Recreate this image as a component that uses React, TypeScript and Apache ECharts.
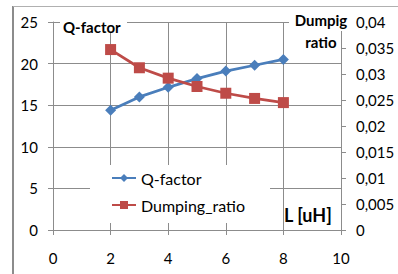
import React, { useEffect, useRef } from "react";
import * as echarts from "echarts";

const inductance = [2, 3, 4, 5, 6, 7, 8];
const qFactor = [14.4, 16.0, 17.15, 18.2, 19.1, 19.8, 20.5];
const dampingRatio = [0.0347, 0.0312, 0.0292, 0.0276, 0.0263, 0.0253, 0.0245];
const seriesNames = ["Q-factor", "Dumping_ratio"];
const leftTitle = "Q-factor";
const rightTitle = "Dumpig\nratio";
const xTitle = "L [uH]";

const GRAY = "#8c8c8c";
const FONT = "Lato";

export default function App() {
  const ref = useRef<HTMLDivElement>(null);
  useEffect(() => {
    if (!ref.current) return;
    const chart = echarts.init(ref.current, null, { renderer: "svg" });
    const qData = inductance.map((x, i) => [x, qFactor[i]]);
    const dData = inductance.map((x, i) => [x, dampingRatio[i]]);
    chart.setOption({
      animation: false,
      backgroundColor: "#fff",
      textStyle: { fontFamily: FONT },
      grid: { left: 53, top: 22, width: 288, height: 208, containLabel: false },
      xAxis: {
        type: "value",
        min: 0,
        max: 10,
        interval: 2,
        axisLine: { show: true, lineStyle: { color: GRAY, width: 1 } },
        axisTick: { show: true, length: 5, lineStyle: { color: GRAY } },
        splitLine: { show: true, lineStyle: { color: GRAY, width: 1 } },
        axisLabel: { color: "#000", fontSize: 15, fontFamily: FONT, margin: 20 },
      },
      yAxis: [
        {
          type: "value",
          min: 0,
          max: 25,
          interval: 5,
          position: "left",
          axisLine: { show: true, lineStyle: { color: GRAY, width: 1 } },
          axisTick: { show: true, length: 5, lineStyle: { color: GRAY } },
          splitLine: { show: true, lineStyle: { color: GRAY, width: 1 } },
          axisLabel: { color: "#000", fontSize: 15, fontFamily: FONT, margin: 15 },
        },
        {
          type: "value",
          min: 0,
          max: 0.04,
          interval: 0.005,
          position: "right",
          axisLine: { show: true, lineStyle: { color: GRAY, width: 1 } },
          axisTick: { show: true, length: 5, lineStyle: { color: GRAY } },
          splitLine: { show: false },
          axisLabel: {
            color: "#000",
            fontSize: 15,
            fontFamily: FONT,
            margin: 15,
            formatter: (v: number) =>
              v === 0 ? "0" : String(+v.toFixed(3)).replace(".", ","),
          },
        },
      ],
      legend: {
        orient: "vertical",
        left: 111,
        top: 170,
        padding: 0,
        itemWidth: 24,
        itemHeight: 10,
        itemGap: 11,
        z: 10,
        textStyle: { color: "#000", fontSize: 16, fontFamily: FONT },
        data: seriesNames,
      },
      graphic: [
        { type: "rect", z: 3, shape: { x: 90, y: 165, width: 180, height: 58 }, style: { fill: "#fff" } },
        { type: "rect", z: 3, shape: { x: 60, y: 14, width: 67, height: 18 }, style: { fill: "#fff" } },
        { type: "rect", z: 3, shape: { x: 289, y: 10, width: 61, height: 21 }, style: { fill: "#fff" } },
        { type: "rect", z: 3, shape: { x: 289, y: 31, width: 50, height: 20 }, style: { fill: "#fff" } },
        {
          type: "text",
          z: 4,
          style: { text: leftTitle, x: 63, y: 27, fill: "#000", font: `bold 15px ${FONT}`, textVerticalAlign: "middle", verticalAlign: "middle" },
        },
        {
          type: "text",
          z: 4,
          style: {
            text: rightTitle,
            x: 321,
            y: 31,
            fill: "#000",
            font: `bold 15px ${FONT}`,
            align: "center",
            textAlign: "center",
            verticalAlign: "middle",
            textVerticalAlign: "middle",
            lineHeight: 22,
          },
        },
        {
          type: "text",
          z: 4,
          style: { text: xTitle, x: 284, y: 215, fill: "#000", font: `bold 18px ${FONT}`, verticalAlign: "middle", textVerticalAlign: "middle" },
        },
        { type: "line", z: 5, shape: { x1: 13, y1: 6, x2: 13, y2: 274 }, style: { stroke: "#8c8c8c", lineWidth: 2 } },
        { type: "line", z: 5, shape: { x1: 13, y1: 6.5, x2: 398, y2: 6.5 }, style: { stroke: "#b0b0b0", lineWidth: 1 } },
      ],
      series: [
        {
          name: seriesNames[0],
          type: "line",
          data: qData,
          yAxisIndex: 0,
          symbol: "diamond",
          symbolSize: 11,
          color: "#4a7ebb",
          lineStyle: { width: 2.75, color: "#4a7ebb" },
          itemStyle: { color: "#4a7ebb" },
          z: 6,
        },
        {
          name: seriesNames[1],
          type: "line",
          data: dData,
          yAxisIndex: 1,
          symbol: "rect",
          symbolSize: 11,
          color: "#be4b48",
          lineStyle: { width: 2.75, color: "#be4b48" },
          itemStyle: { color: "#be4b48" },
          z: 6,
        },
      ],
    });
    return () => chart.dispose();
  }, []);
  return (
    <div
      ref={ref}
      style={{ position: "fixed", left: 0, top: 0, width: 398, height: 274 }}
    />
  );
}
